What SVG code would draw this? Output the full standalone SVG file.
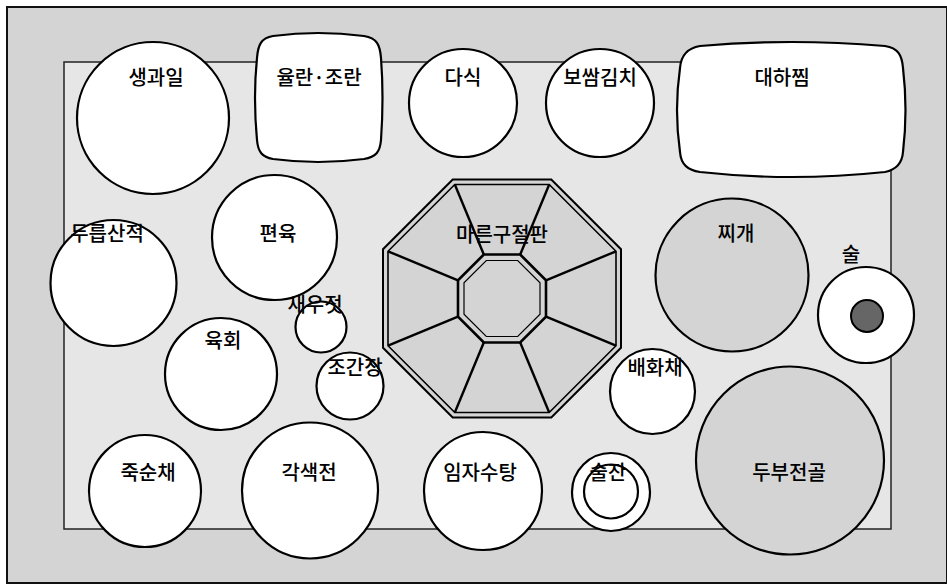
<svg xmlns="http://www.w3.org/2000/svg" width="947" height="584" viewBox="0 0 947 584">
<style>
.dish{fill:#ffffff;stroke:#000;stroke-width:2.2}
.gray{fill:#d4d4d4;stroke:#000;stroke-width:2.2}
.lbl{font-family:"Noto Sans CJK KR","Noto Sans",sans-serif;font-size:20px;font-weight:500;fill:#000;text-anchor:middle}
</style>
<rect id="frame" x="7" y="7" width="940" height="576" fill="#d4d4d4" stroke="#111" stroke-width="2"/>
<rect id="table" x="64" y="62" width="827" height="467" fill="#e6e6e6" stroke="#222" stroke-width="1.5"/>

<g id="gujeolpan">
<polygon points="452.7,179.5 551.3,179.5 621,249.2 621,347.8 551.3,417.5 452.7,417.5 383,347.8 383,249.2" fill="#d4d4d4" stroke="#000" stroke-width="2"/>
<polygon points="454.8,184.5 549.2,184.5 616,251.3 616,345.7 549.2,412.5 454.8,412.5 388,345.7 388,251.3" fill="#d4d4d4" stroke="#000" stroke-width="1.6"/>
<g stroke="#000" stroke-width="2.4">
<line x1="454.8" y1="184.5" x2="483.8" y2="254.5"/>
<line x1="549.2" y1="184.5" x2="520.2" y2="254.5"/>
<line x1="616" y1="251.3" x2="546" y2="280.3"/>
<line x1="616" y1="345.7" x2="546" y2="316.7"/>
<line x1="549.2" y1="412.5" x2="520.2" y2="342.5"/>
<line x1="454.8" y1="412.5" x2="483.8" y2="342.5"/>
<line x1="388" y1="345.7" x2="458" y2="316.7"/>
<line x1="388" y1="251.3" x2="458" y2="280.3"/>
</g>
<polygon points="483.8,254.5 520.2,254.5 546,280.3 546,316.7 520.2,342.5 483.8,342.5 458,316.7 458,280.3" fill="#d4d4d4" stroke="#000" stroke-width="2.6"/>
<polygon points="486.3,260.5 517.7,260.5 540,282.8 540,314.2 517.7,336.5 486.3,336.5 464,314.2 464,282.8" fill="none" stroke="#000" stroke-width="1.2"/>
<text class="lbl" x="502" y="242">마른구절판</text>
</g>

<g id="saenggwail">
<circle class="dish" cx="153" cy="118" r="76"/>
<text class="lbl" x="156" y="85">생과일</text>
</g>
<g id="yulran">
<path class="dish" d="M273,36 Q318,30 364,36 C377,38 380,45 381,58 Q384,97 381,140 C380,152 376,157 364,159 Q318,165 273,159 C262,157 258,152 257,140 Q253,97 257,58 C258,45 261,38 273,36 Z"/>
<text class="lbl" x="319" y="85">율란·조란</text>
</g>
<g id="dasik">
<circle class="dish" cx="463" cy="103" r="54"/>
<text class="lbl" x="463" y="85">다식</text>
</g>
<g id="bossam">
<circle class="dish" cx="600" cy="103" r="54"/>
<text class="lbl" x="600" y="85">보쌈김치</text>
</g>
<g id="daeha">
<path class="dish" d="M700,46 Q790,38 885,46 C898,48 902,55 903,68 Q908,110 903,152 C902,165 895,170 885,172 Q790,182 700,172 C688,170 681,165 680,152 Q674,110 680,68 C681,55 688,48 700,46 Z"/>
<text class="lbl" x="782" y="85">대하찜</text>
</g>
<g id="dureup">
<circle class="dish" cx="113.5" cy="283" r="63"/>
<text class="lbl" x="107" y="241">두릅산적</text>
</g>
<g id="pyeonyuk">
<circle class="dish" cx="274.5" cy="237.5" r="62.5"/>
<text class="lbl" x="278" y="241">편육</text>
</g>
<g id="jjigae">
<circle class="gray" cx="732" cy="275" r="76.5"/>
<text class="lbl" x="736" y="241">찌개</text>
</g>
<g id="sul">
<circle class="dish" cx="866" cy="315" r="48"/>
<circle cx="867" cy="316" r="16" fill="#666" stroke="#000" stroke-width="2"/>
<text class="lbl" x="851" y="262">술</text>
</g>
<g id="saeujeot">
<circle class="dish" cx="321" cy="327" r="25.5"/>
<text class="lbl" x="315" y="312">새우젓</text>
</g>
<g id="yukhoe">
<circle class="dish" cx="221" cy="374" r="56"/>
<text class="lbl" x="223" y="348">육회</text>
</g>
<g id="chogan">
<circle class="dish" cx="350" cy="386" r="33.5"/>
<text class="lbl" x="355" y="375">조간장</text>
</g>
<g id="baehwa">
<circle class="dish" cx="652.5" cy="391.5" r="42.5"/>
<text class="lbl" x="655" y="375">배화채</text>
</g>
<g id="jooksun">
<circle class="dish" cx="145" cy="491" r="56"/>
<text class="lbl" x="148" y="480">죽순채</text>
</g>
<g id="gaksaek">
<circle class="dish" cx="310" cy="490.5" r="68"/>
<text class="lbl" x="309" y="480">각색전</text>
</g>
<g id="imja">
<circle class="dish" cx="483" cy="491" r="59"/>
<text class="lbl" x="480" y="480">임자수탕</text>
</g>
<g id="suljan">
<circle class="dish" cx="611" cy="492" r="39"/>
<circle class="dish" cx="611" cy="491.5" r="27"/>
<text class="lbl" x="608" y="480">술잔</text>
</g>
<g id="dubu">
<circle class="gray" cx="790" cy="460.5" r="94"/>
<text class="lbl" x="789" y="480">두부전골</text>
</g>
<g id="connectors"/>
</svg>
